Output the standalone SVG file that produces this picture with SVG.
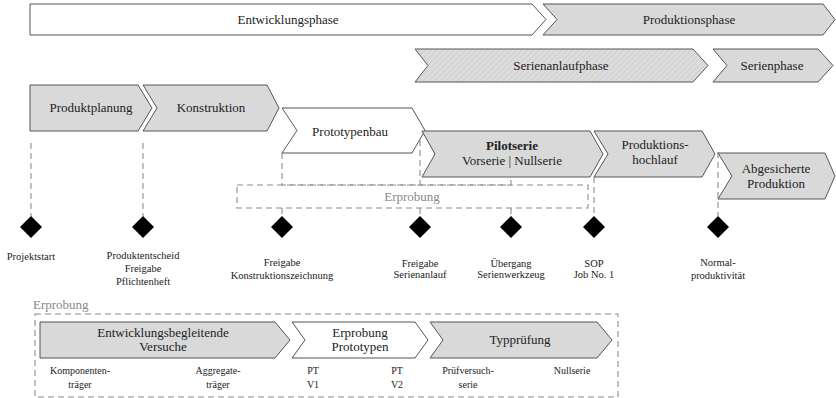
<svg xmlns="http://www.w3.org/2000/svg" width="836" height="398" viewBox="0 0 836 398" font-family="'Liberation Serif', 'Times New Roman', Tinos, 'DejaVu Serif', serif">
  <style>
    .gray { fill: #d9d9d9; stroke: #555; stroke-width: 1; }
    .white { fill: #fff; stroke: #555; stroke-width: 1; }
    .hatch { fill: url(#hatch); stroke: #555; stroke-width: 1; }
    .dash { fill: none; stroke: #8c8c8c; stroke-width: 1.1; stroke-dasharray: 6 4; }
    .ms { fill: #000; }
    text { font-family: 'Liberation Serif', 'Times New Roman', Tinos, 'DejaVu Serif', serif; fill: #222; text-anchor: middle; }
    .lg { font-size: 13px; }
    .sm { font-size: 10.5px; }
    .xs { font-size: 10px; }
    .muted { fill: #888; }
    .b { font-weight: bold; }
  </style>
  <defs>
    <pattern id="hatch" patternUnits="userSpaceOnUse" width="4" height="4" patternTransform="rotate(45)">
      <rect width="4" height="4" fill="#dcdcdc"/>
      <line x1="0" y1="0" x2="0" y2="4" stroke="#c4c4c4" stroke-width="1"/>
    </pattern>
  </defs>

  <!-- phase bars -->
  <g id="entwicklungsphase">
    <polygon class="white" points="30,4 532,4 546,19.5 532,35 30,35"/>
    <text class="lg" x="288" y="24">Entwicklungsphase</text>
  </g>
  <g id="produktionsphase">
    <polygon class="gray" points="543,4 823,4 835,19.5 823,35 543,35 557,19.5"/>
    <text class="lg" x="689" y="24">Produktionsphase</text>
  </g>
  <g id="serienanlaufphase">
    <polygon class="hatch" points="415,49 693,49 708,65.5 693,82 415,82 428,65.5"/>
    <text class="lg" x="561" y="70">Serienanlaufphase</text>
  </g>
  <g id="serienphase">
    <polygon class="gray" points="713,49 818,49 833,65.5 818,82 713,82 727,65.5"/>
    <text class="lg" x="772" y="70">Serienphase</text>
  </g>

  <!-- connectors: dashed guide lines and test bracket -->
  <g id="connectors">
    <line class="dash" x1="31" y1="143" x2="31" y2="216"/>
    <line class="dash" x1="143" y1="143" x2="143" y2="216"/>
    <polyline class="dash" points="282,153 282,185 511,185 511,177"/>
    <line class="dash" x1="420" y1="140" x2="420" y2="185"/>
    <rect class="dash" x="237" y="185" width="351" height="23"/>
    <line class="dash" x1="282" y1="208" x2="282" y2="216"/>
    <line class="dash" x1="420" y1="208" x2="420" y2="216"/>
    <line class="dash" x1="511" y1="208" x2="511" y2="216"/>
    <line class="dash" x1="594" y1="177" x2="594" y2="216"/>
    <line class="dash" x1="718" y1="152" x2="718" y2="216"/>
  </g>
  <text class="lg muted" x="412" y="201">Erprobung</text>

  <!-- process steps -->
  <g id="produktplanung">
    <polygon class="gray" points="30,85 138,85 152,108 138,131 30,131"/>
    <text class="lg" x="91" y="112">Produktplanung</text>
  </g>
  <g id="konstruktion">
    <polygon class="gray" points="143,85 267,85 279,108 267,131 143,131 157,108"/>
    <text class="lg" x="211" y="112">Konstruktion</text>
  </g>
  <g id="prototypenbau">
    <polygon class="white" points="282,108 412,108 425,130.5 412,153 282,153 297,130.5"/>
    <text class="lg" x="350" y="136">Prototypenbau</text>
  </g>
  <g id="pilotserie">
    <polygon class="gray" points="422,131 590,131 603,154 590,177 422,177 435,154"/>
    <text class="lg b" x="512" y="150">Pilotserie</text>
    <text class="lg" x="512" y="165">Vorserie | Nullserie</text>
  </g>
  <g id="produktionshochlauf">
    <polygon class="gray" points="594,131 702,131 715,154 702,177 594,177 608,154"/>
    <text class="lg" x="655" y="149">Produktions-</text>
    <text class="lg" x="655" y="164">hochlauf</text>
  </g>
  <g id="abgesicherte-produktion">
    <polygon class="gray" points="718,153 825,153 835,176 825,199 718,199 732,176"/>
    <text class="lg" x="776" y="173">Abgesicherte</text>
    <text class="lg" x="776" y="188">Produktion</text>
  </g>

  <!-- milestones -->
  <g id="m-projektstart">
    <polygon class="ms" points="31,216 42,227 31,238 20,227"/>
    <text class="sm" x="31" y="259.5">Projektstart</text>
  </g>
  <g id="m-produktentscheid">
    <polygon class="ms" points="143,216 154,227 143,238 132,227"/>
    <text class="sm" x="143" y="258.5">Produktentscheid</text>
    <text class="sm" x="143" y="271.5">Freigabe</text>
    <text class="sm" x="143" y="284.5">Pflichtenheft</text>
  </g>
  <g id="m-konstruktionszeichnung">
    <polygon class="ms" points="282,216 293,227 282,238 271,227"/>
    <text class="sm" x="282" y="265.5">Freigabe</text>
    <text class="sm" x="282" y="278.5">Konstruktionszeichnung</text>
  </g>
  <g id="m-serienanlauf">
    <polygon class="ms" points="420,216 431,227 420,238 409,227"/>
    <text class="sm" x="420" y="266.5">Freigabe</text>
    <text class="sm" x="420" y="278">Serienanlauf</text>
  </g>
  <g id="m-serienwerkzeug">
    <polygon class="ms" points="511,216 522,227 511,238 500,227"/>
    <text class="sm" x="511" y="266.5">Übergang</text>
    <text class="sm" x="511" y="278">Serienwerkzeug</text>
  </g>
  <g id="m-sop">
    <polygon class="ms" points="594,216 605,227 594,238 583,227"/>
    <text class="sm" x="594" y="266.5">SOP</text>
    <text class="sm" x="594" y="278">Job No. 1</text>
  </g>
  <g id="m-normalproduktivitaet">
    <polygon class="ms" points="718,216 729,227 718,238 707,227"/>
    <text class="sm" x="718" y="266">Normal-</text>
    <text class="sm" x="718" y="278.5">produktivität</text>
  </g>

  <!-- test programme -->
  <text class="lg muted" x="33" y="309" style="text-anchor:start">Erprobung</text>
  <rect class="dash" x="35" y="314" width="583" height="83"/>
  <g id="entwicklungsbegleitende-versuche">
    <polygon class="gray" points="40,322 275,322 290,340 275,358 40,358"/>
    <text class="lg" x="163" y="337">Entwicklungsbegleitende</text>
    <text class="lg" x="163" y="351">Versuche</text>
  </g>
  <g id="erprobung-prototypen">
    <polygon class="white" points="292,322 415,322 428,340 415,358 292,358 305,340"/>
    <text class="lg" x="360" y="337">Erprobung</text>
    <text class="lg" x="360" y="351">Prototypen</text>
  </g>
  <g id="typpruefung">
    <polygon class="gray" points="430,322 597,322 612,340 597,358 430,358 443,340"/>
    <text class="lg" x="520" y="344">Typprüfung</text>
  </g>
  <g id="pruefstufen">
    <text class="xs" x="80" y="373.5">Komponenten-</text>
    <text class="xs" x="80" y="387.5">träger</text>
    <text class="xs" x="218" y="373.5">Aggregate-</text>
    <text class="xs" x="218" y="387.5">träger</text>
    <text class="xs" x="313" y="373.5">PT</text>
    <text class="xs" x="313" y="387.5">V1</text>
    <text class="xs" x="397" y="373.5">PT</text>
    <text class="xs" x="397" y="387.5">V2</text>
    <text class="xs" x="468" y="373.5">Prüfversuch-</text>
    <text class="xs" x="468" y="387.5">serie</text>
    <text class="xs" x="572" y="373.5">Nullserie</text>
  </g>
</svg>
